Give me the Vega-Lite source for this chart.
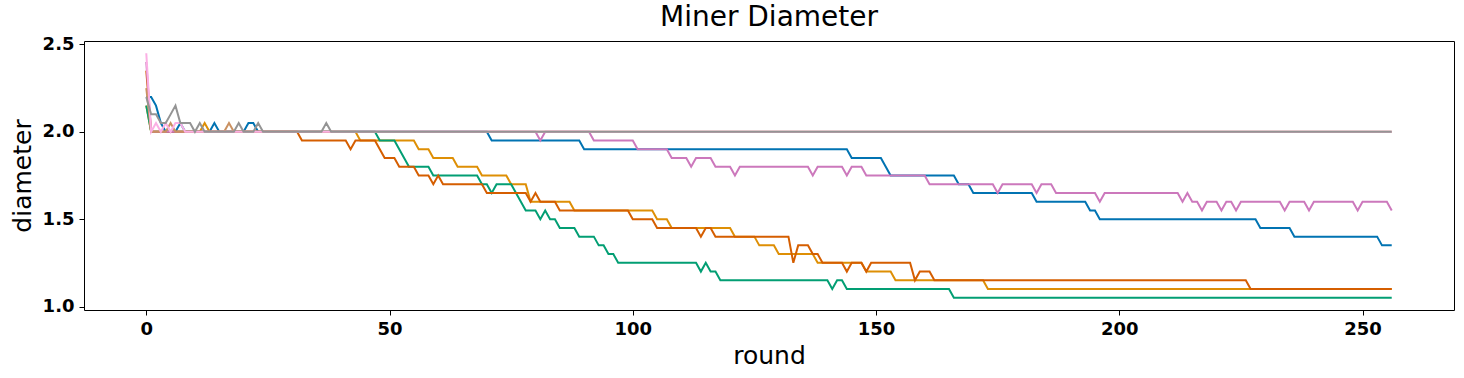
{
  "$schema": "https://vega.github.io/schema/vega-lite/v6.json",
  "autosize": {"type": "none"},
  "width": 1370,
  "height": 269,
  "padding": {"left": 84, "top": 41, "right": 10, "bottom": 68},
  "background": "white",
  "title": {"text": "Miner Diameter", "fontSize": 28, "font": "DejaVu Sans", "fontWeight": "normal", "anchor": "middle", "offset": 3, "color": "black"},
  "config": {
    "view": {"stroke": "black", "strokeWidth": 1},
    "axis": {"grid": false, "domain": false, "tickColor": "black", "tickSize": 5, "tickWidth": 1, "labelFont": "DejaVu Sans", "labelFontWeight": "bold", "labelFontSize": 18, "labelColor": "black", "labelPadding": 5, "titleFont": "DejaVu Sans", "titleFontWeight": "normal", "titleFontSize": 25, "titleColor": "black"}
  },
  "data": {"values": [
    {"miner":"0","round":0,"diameter":2.2},{"miner":"0","round":1,"diameter":2.2},{"miner":"0","round":2,"diameter":2.15},{"miner":"0","round":3,"diameter":2.05},{"miner":"0","round":4,"diameter":2.0},{"miner":"0","round":6,"diameter":2.0},{"miner":"0","round":7,"diameter":2.05},{"miner":"0","round":8,"diameter":2.0},{"miner":"0","round":13,"diameter":2.0},{"miner":"0","round":14,"diameter":2.05},{"miner":"0","round":15,"diameter":2.0},{"miner":"0","round":20,"diameter":2.0},{"miner":"0","round":21,"diameter":2.05},{"miner":"0","round":22,"diameter":2.05},{"miner":"0","round":23,"diameter":2.0},{"miner":"0","round":70,"diameter":2.0},{"miner":"0","round":71,"diameter":1.95},{"miner":"0","round":89,"diameter":1.95},{"miner":"0","round":90,"diameter":1.9},{"miner":"0","round":144,"diameter":1.9},{"miner":"0","round":145,"diameter":1.85},{"miner":"0","round":151,"diameter":1.85},{"miner":"0","round":152,"diameter":1.8},{"miner":"0","round":153,"diameter":1.75},{"miner":"0","round":166,"diameter":1.75},{"miner":"0","round":167,"diameter":1.7},{"miner":"0","round":169,"diameter":1.7},{"miner":"0","round":170,"diameter":1.65},{"miner":"0","round":182,"diameter":1.65},{"miner":"0","round":183,"diameter":1.6},{"miner":"0","round":193,"diameter":1.6},{"miner":"0","round":194,"diameter":1.55},{"miner":"0","round":195,"diameter":1.55},{"miner":"0","round":196,"diameter":1.5},{"miner":"0","round":228,"diameter":1.5},{"miner":"0","round":229,"diameter":1.45},{"miner":"0","round":235,"diameter":1.45},{"miner":"0","round":236,"diameter":1.4},{"miner":"0","round":253,"diameter":1.4},{"miner":"0","round":254,"diameter":1.35},{"miner":"0","round":256,"diameter":1.35},

    {"miner":"1","round":0,"diameter":2.15},{"miner":"1","round":1,"diameter":2.0},{"miner":"1","round":11,"diameter":2.0},{"miner":"1","round":12,"diameter":2.05},{"miner":"1","round":13,"diameter":2.0},{"miner":"1","round":43,"diameter":2.0},{"miner":"1","round":44,"diameter":1.95},{"miner":"1","round":55,"diameter":1.95},{"miner":"1","round":56,"diameter":1.9},{"miner":"1","round":58,"diameter":1.9},{"miner":"1","round":59,"diameter":1.85},{"miner":"1","round":63,"diameter":1.85},{"miner":"1","round":64,"diameter":1.8},{"miner":"1","round":68,"diameter":1.8},{"miner":"1","round":69,"diameter":1.75},{"miner":"1","round":74,"diameter":1.75},{"miner":"1","round":75,"diameter":1.7},{"miner":"1","round":78,"diameter":1.7},{"miner":"1","round":79,"diameter":1.6},{"miner":"1","round":87,"diameter":1.6},{"miner":"1","round":88,"diameter":1.55},{"miner":"1","round":104,"diameter":1.55},{"miner":"1","round":105,"diameter":1.5},{"miner":"1","round":107,"diameter":1.5},{"miner":"1","round":108,"diameter":1.45},{"miner":"1","round":120,"diameter":1.45},{"miner":"1","round":121,"diameter":1.4},{"miner":"1","round":125,"diameter":1.4},{"miner":"1","round":126,"diameter":1.35},{"miner":"1","round":129,"diameter":1.35},{"miner":"1","round":130,"diameter":1.3},{"miner":"1","round":137,"diameter":1.3},{"miner":"1","round":138,"diameter":1.25},{"miner":"1","round":147,"diameter":1.25},{"miner":"1","round":148,"diameter":1.2},{"miner":"1","round":153,"diameter":1.2},{"miner":"1","round":154,"diameter":1.15},{"miner":"1","round":172,"diameter":1.15},{"miner":"1","round":173,"diameter":1.1},{"miner":"1","round":256,"diameter":1.1},

    {"miner":"2","round":0,"diameter":2.15},{"miner":"2","round":1,"diameter":2.0},{"miner":"2","round":47,"diameter":2.0},{"miner":"2","round":48,"diameter":1.95},{"miner":"2","round":51,"diameter":1.95},{"miner":"2","round":52,"diameter":1.9},{"miner":"2","round":53,"diameter":1.85},{"miner":"2","round":54,"diameter":1.8},{"miner":"2","round":58,"diameter":1.8},{"miner":"2","round":59,"diameter":1.75},{"miner":"2","round":68,"diameter":1.75},{"miner":"2","round":69,"diameter":1.7},{"miner":"2","round":70,"diameter":1.7},{"miner":"2","round":71,"diameter":1.65},{"miner":"2","round":72,"diameter":1.7},{"miner":"2","round":75,"diameter":1.7},{"miner":"2","round":76,"diameter":1.65},{"miner":"2","round":77,"diameter":1.6},{"miner":"2","round":78,"diameter":1.55},{"miner":"2","round":80,"diameter":1.55},{"miner":"2","round":81,"diameter":1.5},{"miner":"2","round":82,"diameter":1.55},{"miner":"2","round":83,"diameter":1.5},{"miner":"2","round":84,"diameter":1.5},{"miner":"2","round":85,"diameter":1.45},{"miner":"2","round":88,"diameter":1.45},{"miner":"2","round":89,"diameter":1.4},{"miner":"2","round":92,"diameter":1.4},{"miner":"2","round":93,"diameter":1.35},{"miner":"2","round":94,"diameter":1.35},{"miner":"2","round":95,"diameter":1.3},{"miner":"2","round":96,"diameter":1.3},{"miner":"2","round":97,"diameter":1.25},{"miner":"2","round":113,"diameter":1.25},{"miner":"2","round":114,"diameter":1.2},{"miner":"2","round":115,"diameter":1.25},{"miner":"2","round":116,"diameter":1.2},{"miner":"2","round":117,"diameter":1.2},{"miner":"2","round":118,"diameter":1.15},{"miner":"2","round":140,"diameter":1.15},{"miner":"2","round":141,"diameter":1.1},{"miner":"2","round":142,"diameter":1.15},{"miner":"2","round":143,"diameter":1.15},{"miner":"2","round":144,"diameter":1.1},{"miner":"2","round":165,"diameter":1.1},{"miner":"2","round":166,"diameter":1.05},{"miner":"2","round":256,"diameter":1.05},

    {"miner":"3","round":0,"diameter":2.35},{"miner":"3","round":1,"diameter":2.0},{"miner":"3","round":31,"diameter":2.0},{"miner":"3","round":32,"diameter":1.95},{"miner":"3","round":41,"diameter":1.95},{"miner":"3","round":42,"diameter":1.9},{"miner":"3","round":43,"diameter":1.95},{"miner":"3","round":47,"diameter":1.95},{"miner":"3","round":48,"diameter":1.9},{"miner":"3","round":49,"diameter":1.85},{"miner":"3","round":51,"diameter":1.85},{"miner":"3","round":52,"diameter":1.8},{"miner":"3","round":55,"diameter":1.8},{"miner":"3","round":56,"diameter":1.75},{"miner":"3","round":58,"diameter":1.75},{"miner":"3","round":59,"diameter":1.7},{"miner":"3","round":60,"diameter":1.75},{"miner":"3","round":61,"diameter":1.7},{"miner":"3","round":69,"diameter":1.7},{"miner":"3","round":70,"diameter":1.65},{"miner":"3","round":78,"diameter":1.65},{"miner":"3","round":79,"diameter":1.6},{"miner":"3","round":80,"diameter":1.65},{"miner":"3","round":81,"diameter":1.6},{"miner":"3","round":84,"diameter":1.6},{"miner":"3","round":85,"diameter":1.55},{"miner":"3","round":99,"diameter":1.55},{"miner":"3","round":100,"diameter":1.5},{"miner":"3","round":104,"diameter":1.5},{"miner":"3","round":105,"diameter":1.45},{"miner":"3","round":113,"diameter":1.45},{"miner":"3","round":114,"diameter":1.4},{"miner":"3","round":115,"diameter":1.45},{"miner":"3","round":116,"diameter":1.45},{"miner":"3","round":117,"diameter":1.4},{"miner":"3","round":132,"diameter":1.4},{"miner":"3","round":133,"diameter":1.25},{"miner":"3","round":134,"diameter":1.35},{"miner":"3","round":136,"diameter":1.35},{"miner":"3","round":137,"diameter":1.3},{"miner":"3","round":138,"diameter":1.3},{"miner":"3","round":139,"diameter":1.25},{"miner":"3","round":143,"diameter":1.25},{"miner":"3","round":144,"diameter":1.2},{"miner":"3","round":145,"diameter":1.25},{"miner":"3","round":147,"diameter":1.25},{"miner":"3","round":148,"diameter":1.2},{"miner":"3","round":149,"diameter":1.25},{"miner":"3","round":157,"diameter":1.25},{"miner":"3","round":158,"diameter":1.15},{"miner":"3","round":159,"diameter":1.2},{"miner":"3","round":161,"diameter":1.2},{"miner":"3","round":162,"diameter":1.15},{"miner":"3","round":226,"diameter":1.15},{"miner":"3","round":227,"diameter":1.1},{"miner":"3","round":256,"diameter":1.1},

    {"miner":"4","round":0,"diameter":2.4},{"miner":"4","round":1,"diameter":2.0},{"miner":"4","round":80,"diameter":2.0},{"miner":"4","round":81,"diameter":1.95},{"miner":"4","round":82,"diameter":2.0},{"miner":"4","round":91,"diameter":2.0},{"miner":"4","round":92,"diameter":1.95},{"miner":"4","round":100,"diameter":1.95},{"miner":"4","round":101,"diameter":1.9},{"miner":"4","round":107,"diameter":1.9},{"miner":"4","round":108,"diameter":1.85},{"miner":"4","round":111,"diameter":1.85},{"miner":"4","round":112,"diameter":1.8},{"miner":"4","round":113,"diameter":1.85},{"miner":"4","round":116,"diameter":1.85},{"miner":"4","round":117,"diameter":1.8},{"miner":"4","round":120,"diameter":1.8},{"miner":"4","round":121,"diameter":1.75},{"miner":"4","round":122,"diameter":1.8},{"miner":"4","round":136,"diameter":1.8},{"miner":"4","round":137,"diameter":1.75},{"miner":"4","round":138,"diameter":1.8},{"miner":"4","round":143,"diameter":1.8},{"miner":"4","round":144,"diameter":1.75},{"miner":"4","round":145,"diameter":1.8},{"miner":"4","round":147,"diameter":1.8},{"miner":"4","round":148,"diameter":1.75},{"miner":"4","round":160,"diameter":1.75},{"miner":"4","round":161,"diameter":1.7},{"miner":"4","round":174,"diameter":1.7},{"miner":"4","round":175,"diameter":1.65},{"miner":"4","round":176,"diameter":1.7},{"miner":"4","round":182,"diameter":1.7},{"miner":"4","round":183,"diameter":1.65},{"miner":"4","round":184,"diameter":1.7},{"miner":"4","round":186,"diameter":1.7},{"miner":"4","round":187,"diameter":1.65},{"miner":"4","round":195,"diameter":1.65},{"miner":"4","round":196,"diameter":1.6},{"miner":"4","round":197,"diameter":1.65},{"miner":"4","round":212,"diameter":1.65},{"miner":"4","round":213,"diameter":1.6},{"miner":"4","round":214,"diameter":1.65},{"miner":"4","round":215,"diameter":1.6},{"miner":"4","round":216,"diameter":1.6},{"miner":"4","round":217,"diameter":1.55},{"miner":"4","round":218,"diameter":1.6},{"miner":"4","round":220,"diameter":1.6},{"miner":"4","round":221,"diameter":1.55},{"miner":"4","round":222,"diameter":1.6},{"miner":"4","round":223,"diameter":1.6},{"miner":"4","round":224,"diameter":1.55},{"miner":"4","round":225,"diameter":1.6},{"miner":"4","round":233,"diameter":1.6},{"miner":"4","round":234,"diameter":1.55},{"miner":"4","round":235,"diameter":1.6},{"miner":"4","round":238,"diameter":1.6},{"miner":"4","round":239,"diameter":1.55},{"miner":"4","round":240,"diameter":1.6},{"miner":"4","round":248,"diameter":1.6},{"miner":"4","round":249,"diameter":1.55},{"miner":"4","round":250,"diameter":1.6},{"miner":"4","round":255,"diameter":1.6},{"miner":"4","round":256,"diameter":1.55},

    {"miner":"5","round":0,"diameter":2.25},{"miner":"5","round":1,"diameter":2.0},{"miner":"5","round":4,"diameter":2.0},{"miner":"5","round":5,"diameter":2.05},{"miner":"5","round":6,"diameter":2.0},{"miner":"5","round":16,"diameter":2.0},{"miner":"5","round":17,"diameter":2.05},{"miner":"5","round":18,"diameter":2.0},{"miner":"5","round":256,"diameter":2.0},

    {"miner":"6","round":0,"diameter":2.45},{"miner":"6","round":1,"diameter":2.0},{"miner":"6","round":2,"diameter":2.05},{"miner":"6","round":3,"diameter":2.0},{"miner":"6","round":4,"diameter":2.05},{"miner":"6","round":5,"diameter":2.0},{"miner":"6","round":6,"diameter":2.05},{"miner":"6","round":7,"diameter":2.05},{"miner":"6","round":8,"diameter":2.0},{"miner":"6","round":256,"diameter":2.0},

    {"miner":"7","round":0,"diameter":2.2},{"miner":"7","round":1,"diameter":2.1},{"miner":"7","round":2,"diameter":2.1},{"miner":"7","round":3,"diameter":2.05},{"miner":"7","round":4,"diameter":2.05},{"miner":"7","round":5,"diameter":2.1},{"miner":"7","round":6,"diameter":2.15},{"miner":"7","round":7,"diameter":2.05},{"miner":"7","round":8,"diameter":2.05},{"miner":"7","round":9,"diameter":2.05},{"miner":"7","round":10,"diameter":2.0},{"miner":"7","round":11,"diameter":2.05},{"miner":"7","round":12,"diameter":2.0},{"miner":"7","round":18,"diameter":2.0},{"miner":"7","round":19,"diameter":2.05},{"miner":"7","round":20,"diameter":2.0},{"miner":"7","round":22,"diameter":2.0},{"miner":"7","round":23,"diameter":2.05},{"miner":"7","round":24,"diameter":2.0},{"miner":"7","round":36,"diameter":2.0},{"miner":"7","round":37,"diameter":2.05},{"miner":"7","round":38,"diameter":2.0},{"miner":"7","round":256,"diameter":2.0}
  ]},
  "mark": {"type": "line", "strokeWidth": 2, "interpolate": "linear"},
  "encoding": {
    "x": {"field": "round", "type": "quantitative", "title": "round", "scale": {"domain": [-12.8, 268.8], "nice": false, "zero": false}, "axis": {"values": [0, 50, 100, 150, 200, 250], "titlePadding": 5}},
    "y": {"field": "diameter", "type": "quantitative", "title": "diameter", "scale": {"domain": [0.98, 2.52], "nice": false, "zero": false}, "axis": {"values": [1.0, 1.5, 2.0, 2.5], "format": ".1f", "titlePadding": 7}},
    "color": {"field": "miner", "type": "nominal", "legend": null, "scale": {"domain": ["0","1","2","3","4","5","6","7"], "range": ["#0173b2","#de8f05","#029e73","#d55e00","#cc78bc","#ca9161","#fbafe4","#949494"]}},
    "order": {"field": "round", "type": "quantitative"}
  }
}
